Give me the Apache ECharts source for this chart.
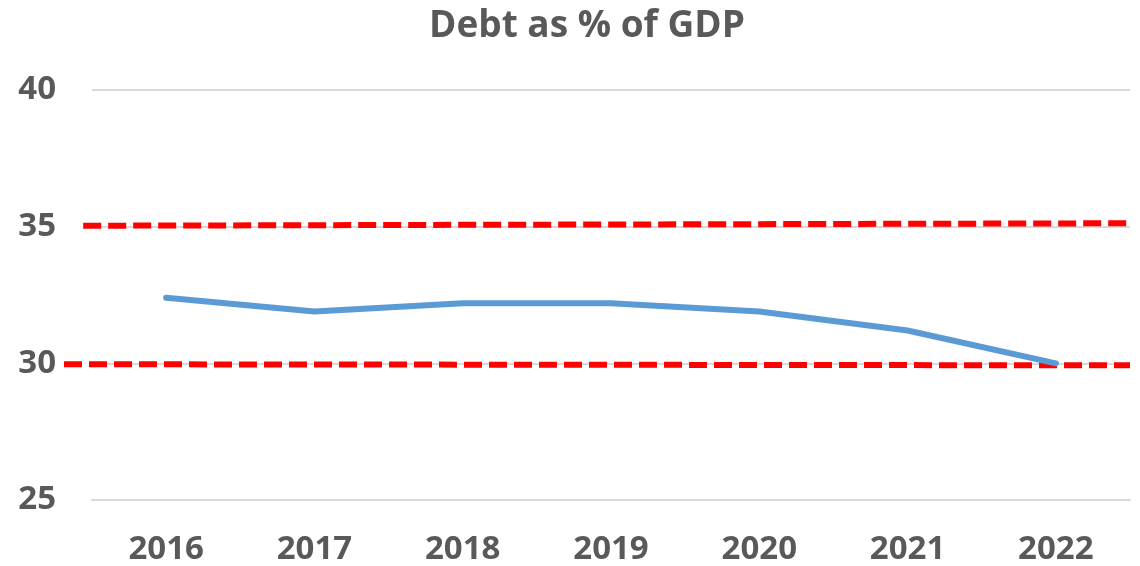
<!DOCTYPE html>
<html>
<head>
<meta charset="utf-8">
<script src="https://cdn.jsdelivr.net/npm/echarts@6/dist/echarts.min.js"></script>
<style>
  html, body { margin: 0; padding: 0; background: #fff; }
  #chart { width: 1140px; height: 566px; }
</style>
</head>
<body>
<div id="chart"></div>
<script>
// data
const years = ['2016', '2017', '2018', '2019', '2020', '2021', '2022'];
const debtPct = [32.4, 31.9, 32.2, 32.2, 31.9, 31.2, 30.0];
const yTicks = [25, 30, 35, 40];
// reference bands: [position along width 0..1, value]
const upperBand = [[0.018, 35.07], [1, 35.16]];
const lowerBand = [[0, 30.04], [1, 30.0]];

const textColor = '#595959';
const fontFamily = '"Open Sans", "Liberation Sans", sans-serif';

const chart = echarts.init(document.getElementById('chart'));

const option = {
  animation: false,
  title: {
    text: 'Debt as % of GDP',
    left: 424,
    top: 3,
    textStyle: { color: textColor, fontSize: 37, fontWeight: 'bold', fontFamily }
  },
  grid: [
    { left: 92, right: 10, top: 90, bottom: 63 },
    { left: 64, right: 10, top: 90, bottom: 63 }
  ],
  xAxis: [
    {
      type: 'category',
      data: years,
      gridIndex: 0,
      boundaryGap: true,
      axisLine: { lineStyle: { color: '#d9d9d9', width: 2 } },
      axisTick: { show: false },
      axisLabel: { color: textColor, fontSize: 33, fontWeight: 'bold', fontFamily, margin: 33 }
    },
    {
      type: 'value',
      gridIndex: 1,
      min: 0,
      max: 1,
      show: false
    }
  ],
  yAxis: [
    {
      type: 'value',
      gridIndex: 0,
      min: yTicks[0],
      max: yTicks[yTicks.length - 1],
      interval: 5,
      axisLine: { show: false },
      axisTick: { show: false },
      splitLine: { lineStyle: { color: '#d9d9d9', width: 2 } },
      axisLabel: { color: textColor, fontSize: 33, fontWeight: 'bold', fontFamily, margin: 36 }
    },
    {
      type: 'value',
      gridIndex: 1,
      min: yTicks[0],
      max: yTicks[yTicks.length - 1],
      show: false
    }
  ],
  series: [
    {
      name: 'Upper',
      type: 'line',
      xAxisIndex: 1,
      yAxisIndex: 1,
      data: upperBand,
      symbol: 'none',
      lineStyle: { color: '#ff0000', width: 6, type: [18, 7] },
      z: 3
    },
    {
      name: 'Lower',
      type: 'line',
      xAxisIndex: 1,
      yAxisIndex: 1,
      data: lowerBand,
      symbol: 'none',
      lineStyle: { color: '#ff0000', width: 6, type: [18, 7] },
      z: 3
    },
    {
      name: 'Debt',
      type: 'line',
      xAxisIndex: 0,
      yAxisIndex: 0,
      data: debtPct,
      symbol: 'none',
      lineStyle: { color: '#5b9bd5', width: 6, cap: 'round', join: 'round' },
      z: 4
    }
  ]
};

chart.setOption(option);
window.addEventListener('resize', () => chart.resize());
</script>
</body>
</html>
